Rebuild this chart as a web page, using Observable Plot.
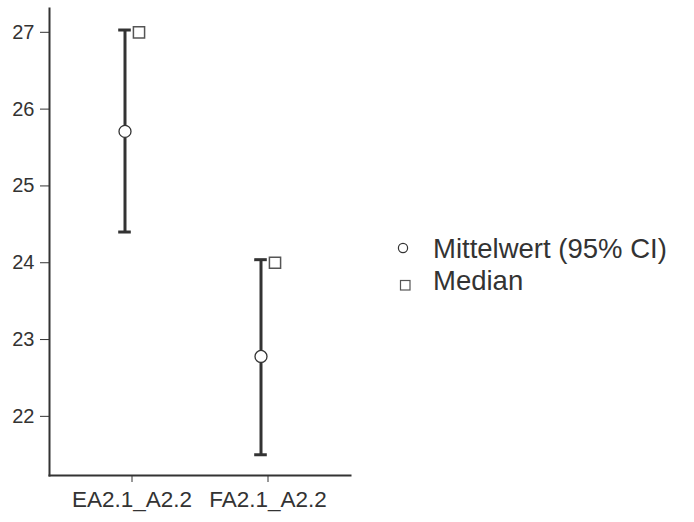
<!DOCTYPE html>
<html>
<head>
<meta charset="utf-8">
<script src="https://cdn.jsdelivr.net/npm/d3@7"></script>
<script src="https://cdn.jsdelivr.net/npm/@observablehq/plot@0.6"></script>
<style>
  body { margin: 0; background: #fff; }
  #wrap { position: relative; width: 694px; height: 522px; font-family: "Liberation Sans", Arial, sans-serif; }
  #legend { position: absolute; left: 380px; top: 220px; }
</style>
</head>
<body>
<div id="wrap">
  <div id="chart"></div>
  <svg id="legend" width="314" height="90"></svg>
</div>
<script>
const categories = ["EA2.1_A2.2", "FA2.1_A2.2"];
const means = [25.71, 22.78];
const ciLower = [24.40, 21.50];
const ciUpper = [27.03, 24.04];
const medians = [27.0, 24.0];
const yTicks = [22, 23, 24, 25, 26, 27];
const legendLabels = ["Mittelwert (95% CI)", "Median"];

const rows = categories.map((c, i) => ({cat: c, mean: means[i], lo: ciLower[i], hi: ciUpper[i], median: medians[i]}));

const ink = "#333";
const capInset = 7.2;
const chart = Plot.plot({
  width: 360,
  height: 522,
  marginLeft: 49,
  marginRight: 10,
  marginTop: 8,
  marginBottom: 47,
  style: {fontFamily: "Liberation Sans, Arial, sans-serif", fontSize: "20px", color: ink, background: "white"},
  x: {type: "band", domain: categories, paddingInner: 0.8, paddingOuter: 0.5, label: null, tickSize: 7, tickPadding: 9, line: true},
  y: {domain: [21.23, 27.31], ticks: yTicks, tickFormat: d3.format("d"), label: null, tickSize: 9, tickPadding: 6, line: true},
  marks: [
    Plot.ruleX(rows, {x: "cat", y1: "lo", y2: "hi", dx: -7, stroke: ink, strokeWidth: 3}),
    Plot.tickY(rows, {x: "cat", y: "hi", dx: -7, insetLeft: capInset, insetRight: capInset, stroke: ink, strokeWidth: 3}),
    Plot.tickY(rows, {x: "cat", y: "lo", dx: -7, insetLeft: capInset, insetRight: capInset, stroke: ink, strokeWidth: 3}),
    Plot.dot(rows, {x: "cat", y: "mean", dx: -7, r: 6, fill: "white", stroke: ink, strokeWidth: 1.3}),
    Plot.dot(rows, {x: "cat", y: "median", dx: 7, symbol: "square", r: 6.3, fill: "white", stroke: "#555", strokeWidth: 1.5})
  ]
});
// thicker axis lines, larger x tick labels
chart.querySelectorAll('[aria-label$="axis line"], [aria-label$="axis-line"], [aria-label="frame"]').forEach(g => {
  g.setAttribute("stroke-width", 2);
  g.querySelectorAll("line, path, rect").forEach(el => el.setAttribute("stroke-width", 2));
  if (g.tagName === "line" || g.tagName === "path" || g.tagName === "rect") g.setAttribute("stroke-width", 2);
});
chart.querySelectorAll('[aria-label="x-axis tick label"], [aria-label="x-axis tick labels"]').forEach(g => g.setAttribute("font-size", "22.5px"));
document.getElementById("chart").appendChild(chart);

const legend = d3.select("#legend");
legend.append("circle").attr("cx", 23).attr("cy", 28).attr("r", 4.6)
  .attr("fill", "white").attr("stroke", ink).attr("stroke-width", 1.2);
legend.append("rect").attr("x", 20.5).attr("y", 60.5).attr("width", 9.5).attr("height", 9.5)
  .attr("fill", "white").attr("stroke", "#555").attr("stroke-width", 1.2);
legendLabels.forEach((t, i) => {
  legend.append("text").attr("x", 53).attr("y", 38 + i * 32)
    .attr("font-family", "Liberation Sans, Arial, sans-serif").attr("font-size", 27.5)
    .attr("fill", ink).text(t);
});
</script>
</body>
</html>
